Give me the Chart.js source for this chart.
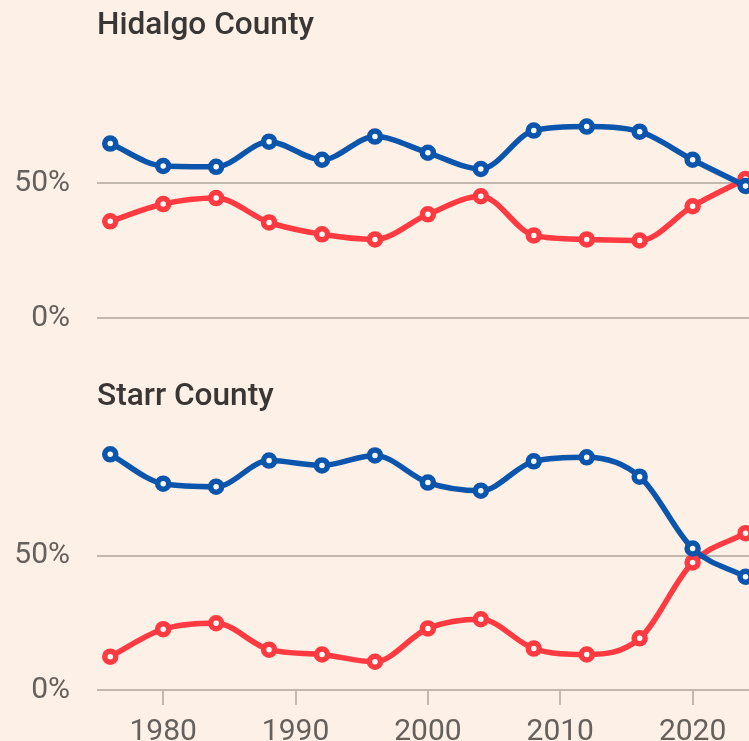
<!DOCTYPE html>
<html>
<head>
<meta charset="utf-8">
<script src="https://cdn.jsdelivr.net/npm/chart.js@4.4.1/dist/chart.umd.min.js"></script>
<style>
  html, body { margin: 0; padding: 0; background: #fdf0e6; }
  body { width: 749px; height: 741px; position: relative; overflow: hidden; }
  .title { position: absolute; left: 97px; font-family: Roboto, "Noto Sans", sans-serif; font-weight: 500;
           font-size: 31px; line-height: 31px; color: #3a3633; white-space: nowrap; transform-origin: 0 0; transform: scaleX(1.02); }
  .wrap { position: absolute; left: 0; width: 749px; }
</style>
</head>
<body>
<div class="wrap" style="top:0px;height:380px"><canvas id="c1" width="749" height="380"></canvas></div>
<div class="wrap" style="top:360px;height:381px"><canvas id="c2" width="749" height="381"></canvas></div>
<div class="title" id="t1" style="top:8px">Hidalgo County</div>
<div class="title" id="t2" style="top:379px">Starr County</div>
<script>
const years = [1976, 1980, 1984, 1988, 1992, 1996, 2000, 2004, 2008, 2012, 2016, 2020, 2024];
const hidalgoDem = [64.6, 56.3, 56.0, 65.3, 58.6, 67.2, 61.2, 55.2, 69.4, 70.9, 69.0, 58.6, 48.9];
const hidalgoRep = [35.8, 42.2, 44.4, 35.4, 31.0, 29.1, 38.4, 45.1, 30.6, 29.1, 28.7, 41.4, 51.5];
const starrDem = [87.6, 76.7, 75.6, 85.3, 83.5, 87.2, 77.1, 74.1, 85.0, 86.5, 79.3, 52.6, 42.1];
const starrRep = [12.4, 22.6, 24.8, 15.0, 13.2, 10.5, 22.9, 26.3, 15.4, 13.2, 19.2, 47.4, 58.3];
const xTicks = [1980, 1990, 2000, 2010, 2020];
const yTicks = [0, 50];

const BLUE = '#0b55ad';
const RED = '#ff3a40';
const GRID = '#c2b8ae';
const TEXT = '#66605c';

function ds(vals, color) {
  return {
    data: years.map((y, i) => ({ x: y, y: vals[i] })),
    borderColor: color,
    borderWidth: 5.5,
    pointRadius: 5.5,
    pointBorderWidth: 5.5,
    pointBackgroundColor: '#ffffff',
    pointBorderColor: color,
    cubicInterpolationMode: 'monotone',
    clip: false
  };
}

function makeChart(id, dem, rep, showX, padTop, padBottom) {
  return new Chart(document.getElementById(id), {
    type: 'line',
    data: { datasets: [ds(dem, BLUE), ds(rep, RED)] },
    options: {
      responsive: false,
      animation: false,
      events: [],
      layout: { autoPadding: false, padding: { left: 0, right: 0, top: padTop, bottom: padBottom } },
      plugins: { legend: { display: false }, tooltip: { enabled: false } },
      scales: {
        x: {
          type: 'linear',
          min: 1975,
          max: 2024.26,
          display: showX,
          afterBuildTicks: s => { s.ticks = xTicks.map(v => ({ value: v })); },
          afterFit: s => { s.height = showX ? 51 : 0; },
          border: { display: false },
          grid: { drawOnChartArea: false, drawTicks: true, tickLength: 15, color: GRID, lineWidth: 2 },
          ticks: {
            padding: 9,
            color: TEXT,
            font: { family: 'Roboto', size: 30, weight: 400 },
            callback: v => String(v),
            maxRotation: 0,
            autoSkip: false
          }
        },
        y: {
          min: 0,
          max: 100,
          afterBuildTicks: s => { s.ticks = yTicks.map(v => ({ value: v })); },
          afterFit: s => { s.width = 97; },
          border: { display: false },
          grid: { drawTicks: false, color: GRID, lineWidth: 2 },
          ticks: {
            padding: 27,
            color: TEXT,
            font: { family: 'Roboto', size: 30, weight: 400 },
            callback: v => v + '%'
          }
        }
      }
    }
  });
}

makeChart('c1', hidalgoDem, hidalgoRep, false, 48, 62);
makeChart('c2', starrDem, starrRep, true, 61, 0);
</script>
</body>
</html>
